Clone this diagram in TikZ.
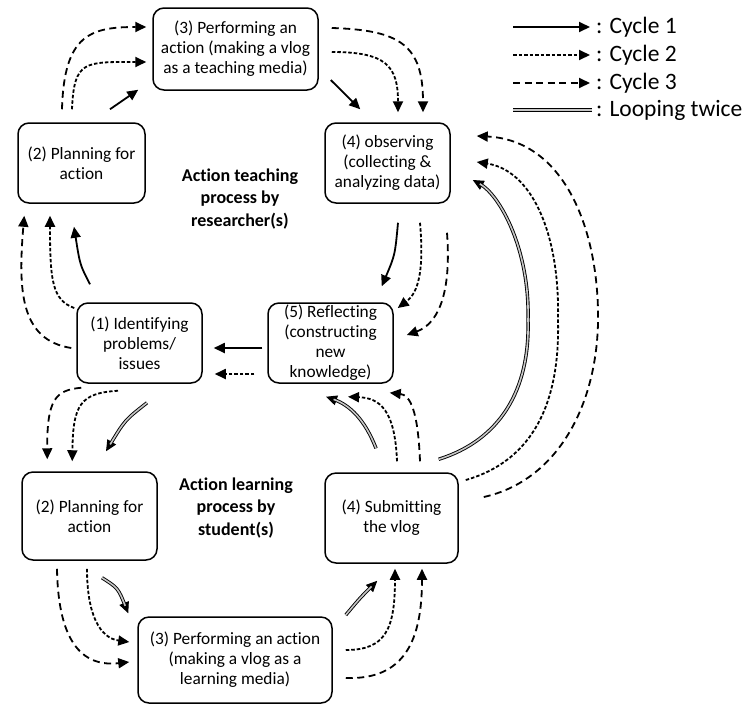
\documentclass[tikz,border=0pt]{standalone}
\usepackage{fontspec}
\setmainfont{Carlito}[Ligatures={NoCommon,NoRare,NoDiscretionary}]
\usetikzlibrary{arrows.meta,calc}
\newcommand{\looppath}[1]{\draw[lpa] #1; \draw[lpb] #1;}
\begin{document}
\begin{tikzpicture}[x=1pt,y=-1pt,
  box/.style={draw, line width=1.5pt, rounded corners=11pt, align=center, inner sep=0pt, font=\fontsize{17.3}{20}\selectfont},
  ttl/.style={align=center, inner sep=0pt, font=\fontsize{18}{22.5}\selectfont\bfseries},
  leg/.style={anchor=west, inner sep=0pt, font=\fontsize{23.5}{26}\selectfont},
  arrtip/.style={-{Triangle[length=11pt,width=10pt]}},
  c1s/.style={arrtip, line width=1.8pt},
  c2s/.style={arrtip, line width=1.8pt, dash pattern=on 3.5pt off 2pt},
  c3s/.style={arrtip, line width=1.8pt, dash pattern=on 7pt off 4.5pt},
  lpa/.style={arrtip, line width=1pt},
  lpb/.style={draw=black, line width=0.9pt, double=gray!45, double distance=1.6pt, shorten >=8pt},
]
\useasboundingbox (0,0) rectangle (746,705);

% boxes
\node[box, minimum width=165pt, minimum height=82pt] (T3) at (235.5,49) {(3) Performing an\\action (making a vlog\\as a teaching media)};
\node[box, minimum width=127pt, minimum height=80pt] (T2) at (81.5,163) {(2) Planning for\\action};
\node[box, minimum width=125pt, minimum height=80pt] (T4) at (387.5,163) {(4) observing\\(collecting \&\\analyzing data)};
\node[box, minimum width=125pt, minimum height=80pt] (T5) at (330.5,343) {(5) Reflecting\\(constructing\\new\\knowledge)};
\node[box, minimum width=125pt, minimum height=80pt] (T1) at (139.5,343) {(1) Identifying\\problems/\\issues};
\node[box, minimum width=135pt, minimum height=88pt] (L2) at (89.5,516) {(2) Planning for\\action};
\node[box, minimum width=133pt, minimum height=90pt] (L4) at (391.5,518) {(4) Submitting\\the vlog};
\node[box, minimum width=194pt, minimum height=86pt] (L3) at (235,660) {(3) Performing an action\\(making a vlog as a\\learning media)};

\node[ttl] (tt) at (240,199) {Action teaching\\process by\\researcher(s)};
\node[ttl] (lt) at (236,508) {Action learning\\process by\\student(s)};

% legend
\node[leg] (g1) at (596,27) {: Cycle 1};
\node[leg] (g2) at (596,55) {: Cycle 2};
\node[leg] (g3) at (596,83) {: Cycle 3};
\node[leg] (g4) at (596,110) {: Looping twice};
\draw[c1s] ($(g1.west)+(-83,0)$) -- ($(g1.west)+(-6,0)$);
\draw[c2s] ($(g2.west)+(-83,0)$) -- ($(g2.west)+(-6,0)$);
\draw[c3s] ($(g3.west)+(-83,0)$) -- ($(g3.west)+(-6,0)$);
\draw[lpb, shorten >=0pt] ($(g4.west)+(-83,0)$) -- ($(g4.west)+(-4,0)$);

% T2 -> T3
\draw[c1s] ($(T2.north)+(28.5,-13)$) -- ($(T3.south west)+(-14,-1)$);
\draw[c2s] ($(T2.north)+(-9.5,-13)$) .. controls (74,60) and (85,62) .. ($(T3.west)+(-6,13)$);
\draw[c3s] ($(T2.north)+(-19.5,-13)$) .. controls (64,35) and (90,27) .. ($(T3.west)+(-6,-22)$);

% T3 -> T4
\draw[c1s] ($(T3.east)+(12,31)$) -- ($(T4.north west)+(36,-13)$);
\draw[c2s] ($(T3.east)+(13,3)$) .. controls (385,52) and (398,65) .. ($(T4.north)+(10.5,-10)$);
\draw[c3s] ($(T3.east)+(13,-21)$) .. controls (400,30) and (423,45) .. ($(T4.north)+(35.5,-10)$);

% T4 -> T5
\draw[c1s] ($(T4.south)+(10.5,19)$) .. controls (395,255) .. ($(T5.north east)+(-12,-16)$);
\draw[c2s] ($(T4.south)+(32.5,19)$) .. controls (425,280) and (415,295) .. ($(T5.east)+(4,-35)$);
\draw[c3s] ($(T4.south)+(59.5,29)$) .. controls (452,300) and (435,325) .. ($(T5.east)+(13,-8)$);

% T5 -> T1
\draw[c1s] ($(T5.west)+(-5,5)$) -- ($(T1.east)+(11,5)$);
\draw[c2s] ($(T5.west)+(-13,31)$) -- ($(T1.east)+(12,31)$);

% T1 -> T2
\draw[c1s] ($(T1.north)+(-49.5,-18)$) .. controls (80,265) .. ($(T2.south)+(-7.5,23)$);
\draw[c2s] ($(T1.west)+(-2,-35)$) .. controls (52,300) and (50,280) .. ($(T2.south)+(-31.5,12)$);
\draw[c3s] ($(T1.west)+(-5,5)$) .. controls (20,340) and (18,290) .. ($(T2.south west)+(7,12)$);

% T1 -> L2
\draw[c3s] ($(T1.south west)+(5,4)$) .. controls (55,390) and (47,400) .. ($(L2.north west)+(26,-12)$);
\draw[c2s] ($(T1.south)+(-21.5,7)$) .. controls (80,393) and (73,405) .. ($(L2.north west)+(51,-10)$);
\looppath{($(T1.south)+(7.5,19)$) .. controls (125,420) .. ($(L2.north)+(16.5,-20)$)}

% L2 -> L3
\draw[c3s] ($(L2.south)+(-32.5,8)$) .. controls (58,630) and (75,668) .. ($(L3.west)+(-8,2)$);
\draw[c2s] ($(L2.south)+(-2.5,8)$) .. controls (87,615) and (100,638) .. ($(L3.west)+(-8,-18)$);
\looppath{($(L2.south)+(12.5,17)$) .. controls (118,588) .. ($(L3.north west)+(-9,-3)$)}

% L3 -> L4
\looppath{($(L3.east)+(13,-45)$) .. controls (360,598) .. ($(L4.south west)+(53,17)$)}
\draw[c2s] ($(L3.east)+(13,-10)$) .. controls (385,650) and (395,630) .. ($(L4.south)+(3.5,5)$);
\draw[c3s] ($(L3.east)+(13,18)$) .. controls (405,680) and (422,640) .. ($(L4.south)+(30.5,5)$);

% L4 -> T5
\looppath{($(L4.north)+(-15.5,-24)$) .. controls (365,420) and (350,405) .. ($(T5.south)+(-4.5,13)$)}
\draw[c2s] ($(L4.north)+(5.5,-11)$) .. controls (395,410) and (380,398) .. ($(T5.south)+(17.5,13)$);
\draw[c3s] ($(L4.north)+(28.5,-11)$) .. controls (418,410) and (410,395) .. ($(T5.south east)+(-4,9)$);

% L4 -> T4
\looppath{($(L4.north east)+(-20,-13)$) .. controls (500,440) and (530,390) .. (528,320) .. controls (530,250) and (500,195) .. ($(T4.east)+(22,17)$)}
\draw[c2s] ($(L4.east)+(7,-38)$) .. controls (535,460) and (560,400) .. (558,320) .. controls (560,230) and (530,170) .. ($(T4.east)+(26,-1)$);
\draw[c3s] ($(L4.east)+(25,-21)$) .. controls (560,480) and (600,400) .. (598,310) .. controls (596,220) and (560,140) .. ($(T4.east)+(26,-27)$);
\end{tikzpicture}
\end{document}
